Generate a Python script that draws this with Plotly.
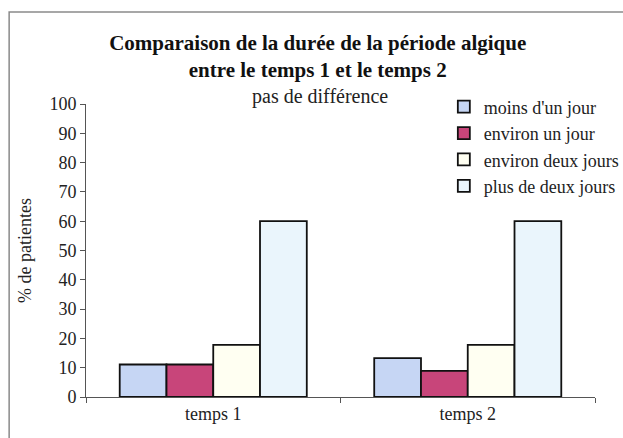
import plotly.graph_objects as go

# Share of patients (%) by duration of the painful period, at each time point
categories = ["temps 1", "temps 2"]
series_names = ["moins d'un jour", "environ un jour", "environ deux jours", "plus de deux jours"]
values = {
    "moins d'un jour": [11.1, 13.3],
    "environ un jour": [11.1, 8.9],
    "environ deux jours": [17.8, 17.8],
    "plus de deux jours": [60.0, 60.0],
}
colors = ["#c6d6f4", "#c8457a", "#fffff2", "#eaf5fc"]
y_ticks = [0, 10, 20, 30, 40, 50, 60, 70, 80, 90, 100]

serif = "Liberation Serif"

fig = go.Figure()
for name, col in zip(series_names, colors):
    fig.add_trace(go.Bar(
        name=name,
        x=categories,
        y=values[name],
        marker=dict(color=col, line=dict(color="#111111", width=1.8)),
    ))

fig.update_layout(
    width=623,
    height=438,
    margin=dict(l=86, r=28, t=104, b=41, autoexpand=False),
    paper_bgcolor="white",
    plot_bgcolor="white",
    barmode="group",
    bargap=0.265,
    bargroupgap=0,
    font=dict(family=serif, size=17, color="#222222"),
    title=dict(
        text="<b>Comparaison de la durée de la période algique</b><br><b>entre le temps 1 et le temps 2</b>",
        font=dict(family=serif, size=21, color="#111111"),
        x=0.51,
        xanchor="center",
        y=1 - 50 / 438,
        yanchor="middle",
        yref="container",
    ),
    showlegend=True,
    legend=dict(
        x=0.703,
        y=1.053,
        xanchor="left",
        yanchor="top",
        bgcolor="rgba(0,0,0,0)",
        font=dict(family=serif, size=18, color="#222222"),
        tracegroupgap=0,
        itemclick=False,
    ),
    xaxis=dict(
        showline=True,
        linecolor="#555555",
        linewidth=1,
        ticks="outside",
        tickson="boundaries",
        ticklen=5,
        tickcolor="#555555",
        tickfont=dict(family=serif, size=18, color="#222222"),
        showgrid=False,
        zeroline=False,
    ),
    yaxis=dict(
        range=[0, 100],
        tickvals=y_ticks,
        showline=True,
        linecolor="#555555",
        linewidth=1,
        ticks="outside",
        ticklen=5,
        tickcolor="#555555",
        tickfont=dict(family=serif, size=18, color="#222222"),
        showgrid=False,
        zeroline=False,
        title=dict(text="% de patientes", font=dict(family=serif, size=18, color="#222222"), standoff=13),
    ),
)

# subtitle above the plot area
fig.add_annotation(
    text="pas de différence",
    xref="paper", yref="paper",
    x=0.46, y=1.024,
    xanchor="center", yanchor="middle",
    showarrow=False,
    font=dict(family=serif, size=20, color="#222222"),
)

# chart frame (left and top edges visible)
fig.add_shape(
    type="rect",
    xref="paper", yref="paper",
    x0=-0.151, x1=1.2, y0=-0.3, y1=1.314,
    line=dict(color="#8a8a8a", width=1.5),
    layer="below",
)

fig.write_html("out.html")
